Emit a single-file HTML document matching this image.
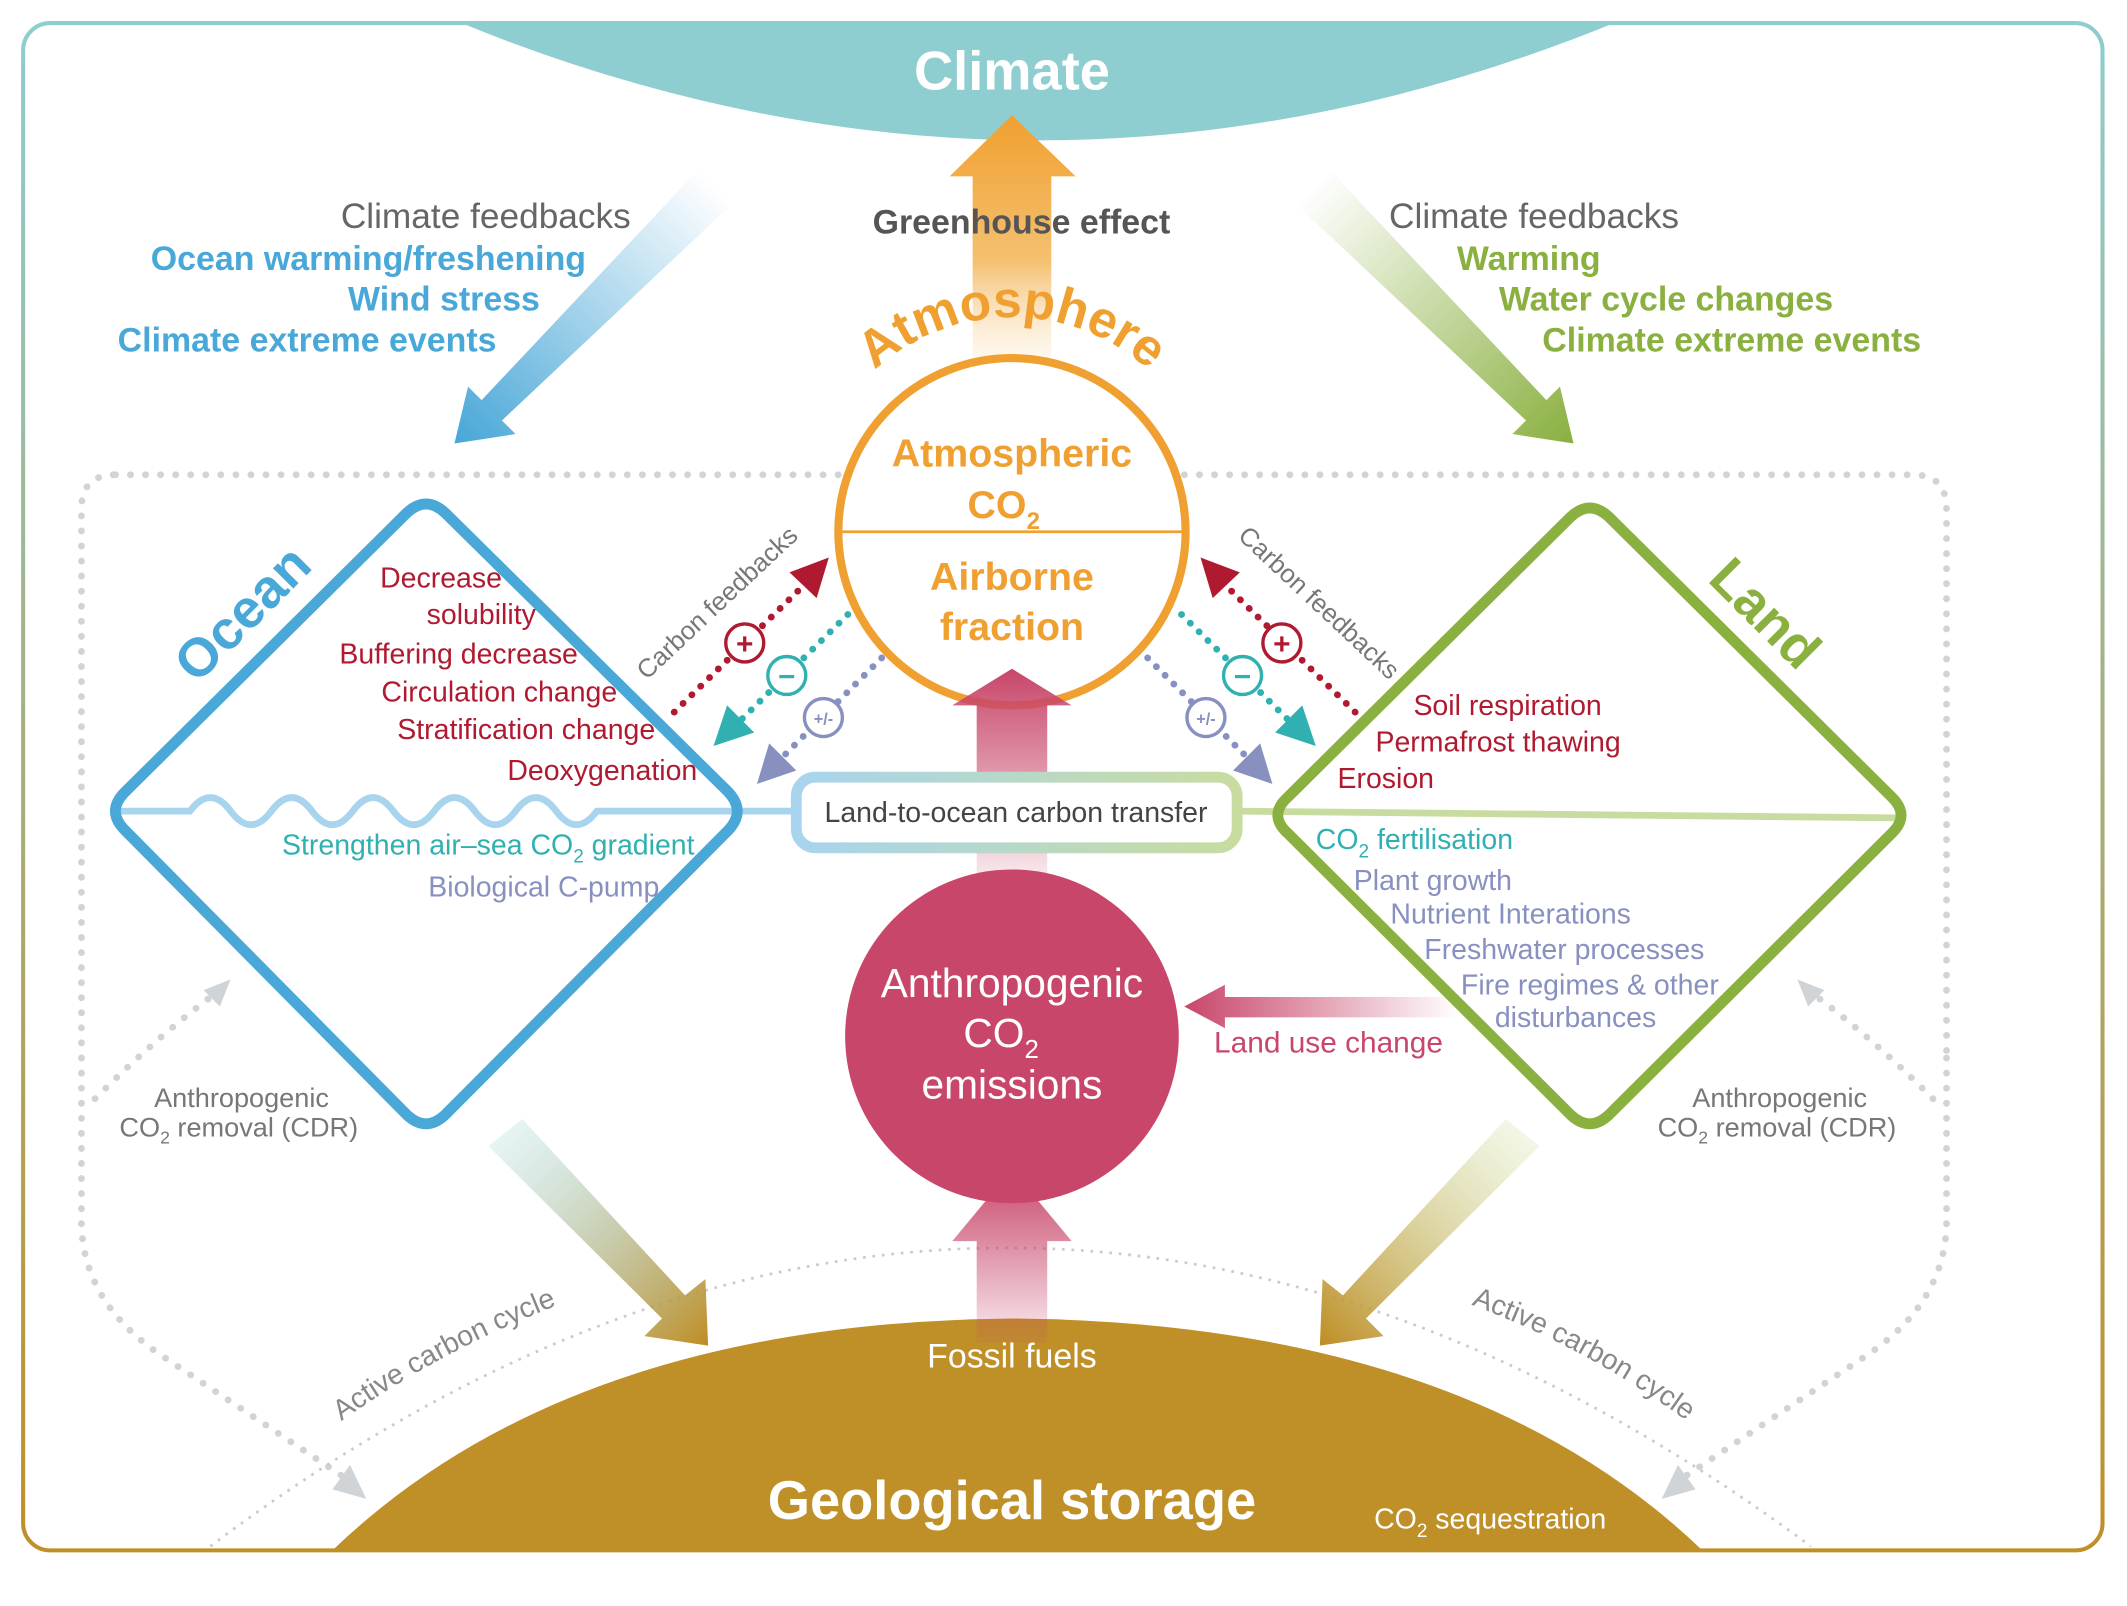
<!DOCTYPE html>
<html><head><meta charset="utf-8"><style>
html,body{margin:0;padding:0;background:#fff}
svg{display:block}
text{font-family:"Liberation Sans Narrow","Liberation Sans",sans-serif}
</style></head><body>
<svg width="2127" height="1606" viewBox="0 0 1568 1184" xmlns="http://www.w3.org/2000/svg">
<defs>
<linearGradient id="bord" x1="0" y1="0" x2="0" y2="1"><stop offset="0" stop-color="#8ecdd0"/><stop offset="1" stop-color="#bf8f28"/></linearGradient>
<linearGradient id="orng" x1="0" y1="0" x2="0" y2="1"><stop offset="0" stop-color="#f0a030"/><stop offset="0.5" stop-color="#f5c070"/><stop offset="1" stop-color="#fff" stop-opacity="0"/></linearGradient>
<linearGradient id="pink" x1="0" y1="0" x2="0" y2="1"><stop offset="0" stop-color="#c8466a"/><stop offset="1" stop-color="#c8466a" stop-opacity="0.1"/></linearGradient>
<linearGradient id="pinkh" x1="0" y1="0" x2="1" y2="0"><stop offset="0" stop-color="#c8466a"/><stop offset="1" stop-color="#c8466a" stop-opacity="0"/></linearGradient>
<linearGradient id="blueA" x1="525" y1="135" x2="340" y2="325" gradientUnits="userSpaceOnUse"><stop offset="0" stop-color="#4aa8d8" stop-opacity="0"/><stop offset="1" stop-color="#4aa8d8"/></linearGradient>
<linearGradient id="greenA" x1="970" y1="135" x2="1160" y2="325" gradientUnits="userSpaceOnUse"><stop offset="0" stop-color="#8ab040" stop-opacity="0"/><stop offset="1" stop-color="#8ab040"/></linearGradient>
<linearGradient id="goldL" x1="365" y1="835" x2="520" y2="990" gradientUnits="userSpaceOnUse"><stop offset="0" stop-color="#8ecdd0" stop-opacity="0.2"/><stop offset="1" stop-color="#bf8f28"/></linearGradient>
<linearGradient id="goldR" x1="1130" y1="835" x2="975" y2="990" gradientUnits="userSpaceOnUse"><stop offset="0" stop-color="#c8d890" stop-opacity="0.2"/><stop offset="1" stop-color="#bf8f28"/></linearGradient>
<linearGradient id="lto" x1="586" y1="0" x2="912" y2="0" gradientUnits="userSpaceOnUse"><stop offset="0" stop-color="#a8d4ee"/><stop offset="1" stop-color="#c8dca0"/></linearGradient>
<path id="atmArc" d="M606,330 A150,150 0 0 1 886,330"/>
<path id="cfL" d="M478,500 L608,378"/>
<path id="cfR" d="M893,378 L1023,500"/>
<path id="accL" d="M235,1060 Q320,995 430,955"/>
<path id="accR" d="M1065,955 Q1170,990 1260,1060"/>
</defs>
<rect x="17" y="17" width="1533" height="1126" rx="20" fill="none" stroke="url(#bord)" stroke-width="3"/>
<path d="M85,350 H1410 Q1435,350 1435,375 V780 M60,780 V375 Q60,350 85,350" fill="none" stroke="#d0d4d6" stroke-width="5" stroke-dasharray="0.1 11" stroke-linecap="round"/>
<path d="M60,780 V900 Q60,960 120,1000 L255,1090" fill="none" stroke="#d0d4d6" stroke-width="5" stroke-dasharray="0.1 11" stroke-linecap="round"/>
<path d="M1435,780 V900 Q1435,960 1375,1000 L1240,1090" fill="none" stroke="#d0d4d6" stroke-width="5" stroke-dasharray="0.1 11" stroke-linecap="round"/>
<path d="M70,810 Q120,760 165,728" fill="none" stroke="#d0d4d6" stroke-width="5" stroke-dasharray="0.1 11" stroke-linecap="round"/>
<path d="M1425,810 Q1375,760 1330,728" fill="none" stroke="#d0d4d6" stroke-width="5" stroke-dasharray="0.1 11" stroke-linecap="round"/>
<polygon points="170,722 150,730 162,742" fill="#d0d4d6"/>
<polygon points="1325,722 1345,730 1333,742" fill="#d0d4d6"/>
<polygon points="270,1105 245,1098 258,1080" fill="#d0d4d6"/>
<polygon points="1225,1105 1250,1098 1237,1080" fill="#d0d4d6"/>
<path d="M155,1140 Q740,700 1335,1140" fill="none" stroke="#c8cacc" stroke-width="2" stroke-dasharray="2 5"/>
<path d="M340,17 Q765,190 1190,17 Z" fill="#8ecdd0"/>
<text x="746" y="66" text-anchor="middle" font-size="40" font-weight="bold" fill="#fff">Climate</text>
<polygon points="746,85 793,130 775,130 775,300 717,300 717,130 700,130" fill="url(#orng)"/>
<text x="753" y="172" text-anchor="middle" font-size="25" font-weight="bold" fill="#555">Greenhouse effect</text>
<polygon points="515,125 540,150 370,310 380,320 335,327 345,285 355,295" fill="url(#blueA)"/>
<polygon points="980,125 955,150 1125,310 1115,320 1160,327 1150,285 1140,295" fill="url(#greenA)"/>
<text font-size="25" text-anchor="end"><tspan x="465" y="168" fill="#666" font-size="26">Climate feedbacks</tspan><tspan x="432" y="199" fill="#4aa8d8" font-weight="bold">Ocean warming/freshening</tspan><tspan x="398" y="229" fill="#4aa8d8" font-weight="bold">Wind stress</tspan><tspan x="366" y="259" fill="#4aa8d8" font-weight="bold">Climate extreme events</tspan></text>
<text font-size="25"><tspan x="1024" y="168" fill="#666" font-size="26">Climate feedbacks</tspan><tspan x="1074" y="199" fill="#8ab040" font-weight="bold">Warming</tspan><tspan x="1105" y="229" fill="#8ab040" font-weight="bold">Water cycle changes</tspan><tspan x="1137" y="259" fill="#8ab040" font-weight="bold">Climate extreme events</tspan></text>
<text font-size="38" font-weight="bold" fill="#f0a030"><textPath href="#atmArc" startOffset="50%" text-anchor="middle">Atmosphere</textPath></text>
<polygon points="360,845 385,825 505,955 520,943 522,992 475,985 488,972" fill="url(#goldL)"/>
<polygon points="1135,845 1110,825 990,955 975,943 973,992 1020,985 1007,972" fill="url(#goldR)"/>
<path d="M245,1143 Q420,975 746,972 Q1080,975 1255,1143 Z" fill="#bf8f28"/>
<text x="746" y="1120" text-anchor="middle" font-size="40" font-weight="bold" fill="#fff">Geological storage</text>
<text x="1013" y="1127" font-size="21" fill="#fff">CO<tspan font-size="14" dy="6">2</tspan><tspan dy="-6"> sequestration</tspan></text>
<text font-size="21" fill="#888"><textPath href="#accL" startOffset="50%" text-anchor="middle">Active carbon cycle</textPath></text>
<text font-size="21" fill="#888"><textPath href="#accR" startOffset="50%" text-anchor="middle">Active carbon cycle</textPath></text>
<polygon points="873,742 903,726 903,735 1075,735 1075,750 903,750 903,758" fill="url(#pinkh)"/>
<text x="895" y="776" font-size="22" fill="#c8466a">Land use change</text>
<circle cx="746" cy="764" r="123" fill="#c8466a"/>
<text text-anchor="middle" font-size="30" fill="#fff"><tspan x="746" y="735">Anthropogenic</tspan><tspan x="738" y="772">CO</tspan><tspan font-size="19" dy="8">2</tspan><tspan x="746" y="810">emissions</tspan></text>
<polygon points="746,862 790,915 772,915 772,990 720,990 720,915 702,915" fill="url(#pink)"/>
<text x="746" y="1008" text-anchor="middle" font-size="25" fill="#fff">Fossil fuels</text>
<path d="M85,598 H140 q15,-20 30,0 t30,0 t30,0 t30,0 t30,0 t30,0 t30,0 t30,0 t30,0 t30,0 H586" fill="none" stroke="#a8d4ee" stroke-width="5"/>
<path d="M912,598 L1400,603" fill="none" stroke="#c8dca0" stroke-width="5"/>
<path d="M300,378 Q314,365 328,378 L537,584 Q550,598 537,612 L328,822 Q314,835 300,822 L92,612 Q78,598 92,584 Z" fill="none" stroke="#4aa8d8" stroke-width="8"/>
<path d="M1158,381 Q1172,368 1186,381 L1395,588 Q1408,601 1395,614 L1186,822 Q1172,835 1158,822 L949,614 Q935,601 949,588 Z" fill="none" stroke="#8ab040" stroke-width="8"/>
<text font-size="40" font-weight="bold" fill="#4aa8d8" transform="translate(145,505) rotate(-45)">Ocean</text>
<text font-size="40" font-weight="bold" fill="#8ab040" transform="translate(1258,428) rotate(45)">Land</text>
<text font-size="21" fill="#b01a30" text-anchor="end"><tspan x="370" y="433">Decrease</tspan><tspan x="395" y="460">solubility</tspan><tspan x="426" y="489">Buffering decrease</tspan><tspan x="455" y="517">Circulation change</tspan><tspan x="483" y="545">Stratification change</tspan><tspan x="514" y="575">Deoxygenation</tspan></text>
<text font-size="21" text-anchor="end"><tspan x="512" y="630" fill="#30b0b0">Strengthen air–sea CO<tspan font-size="14" dy="6">2</tspan><tspan dy="-6"> gradient</tspan></tspan><tspan x="486" y="661" fill="#8890c0">Biological C-pump</tspan></text>
<text font-size="21" fill="#b01a30"><tspan x="1042" y="527">Soil respiration</tspan><tspan x="1014" y="554">Permafrost thawing</tspan><tspan x="986" y="581">Erosion</tspan></text>
<text font-size="21" fill="#8890c0"><tspan x="970" y="626" fill="#30b0b0">CO<tspan font-size="14" dy="6">2</tspan><tspan dy="-6"> fertilisation</tspan></tspan><tspan x="998" y="656">Plant growth</tspan><tspan x="1025" y="681">Nutrient Interations</tspan><tspan x="1050" y="707">Freshwater processes</tspan><tspan x="1077" y="733">Fire regimes &amp; other</tspan><tspan x="1102" y="757">disturbances</tspan></text>
<text font-size="20" fill="#777" text-anchor="middle"><tspan x="178" y="816">Anthropogenic</tspan><tspan x="176" y="838">CO<tspan font-size="13" dy="5">2</tspan><tspan dy="-5"> removal (CDR)</tspan></tspan><tspan x="1312" y="816">Anthropogenic</tspan><tspan x="1310" y="838">CO<tspan font-size="13" dy="5">2</tspan><tspan dy="-5"> removal (CDR)</tspan></tspan></text>
<circle cx="746" cy="392" r="128" fill="#fff" stroke="#f0a030" stroke-width="6"/>
<line x1="620" y1="392" x2="872" y2="392" stroke="#f0a030" stroke-width="2"/>
<text text-anchor="middle" font-size="29" font-weight="bold" fill="#f0a030"><tspan x="746" y="344">Atmospheric</tspan><tspan x="740" y="382">CO</tspan><tspan font-size="18" dy="8">2</tspan><tspan x="746" y="435">Airborne</tspan><tspan x="746" y="472">fraction</tspan></text>
<polygon points="746,493 790,520 772,520 772,650 720,650 720,520 702,520" fill="url(#pink)"/>
<rect x="587" y="573" width="325" height="52" rx="14" fill="#fff" stroke="url(#lto)" stroke-width="8"/>
<text x="749" y="606" text-anchor="middle" font-size="21" fill="#444">Land-to-ocean carbon transfer</text>
<g stroke-width="5" stroke-linecap="round" stroke-dasharray="0.1 9" fill="none">
<path d="M497,525 L592,432" stroke="#b01a30"/>
<path d="M625,453 L545,532" stroke="#30b0b0"/>
<path d="M650,485 L578,557" stroke="#8890c0"/>
<path d="M999,525 L904,432" stroke="#b01a30"/>
<path d="M871,453 L951,532" stroke="#30b0b0"/>
<path d="M846,485 L918,557" stroke="#8890c0"/>
</g>
<polygon points="611,411 602,441 582,422" fill="#b01a30"/>
<polygon points="526,550 536,520 556,540" fill="#30b0b0"/>
<polygon points="558,578 567,548 587,568" fill="#8890c0"/>
<polygon points="885,411 894,441 914,422" fill="#b01a30"/>
<polygon points="970,550 960,520 940,540" fill="#30b0b0"/>
<polygon points="938,578 929,548 909,568" fill="#8890c0"/>
<g fill="#fff" stroke-width="2.5">
<circle cx="549" cy="474" r="14" stroke="#b01a30"/><circle cx="580" cy="498" r="14" stroke="#30b0b0"/><circle cx="607" cy="529" r="14" stroke="#8890c0"/>
<circle cx="945" cy="474" r="14" stroke="#b01a30"/><circle cx="916" cy="498" r="14" stroke="#30b0b0"/><circle cx="889" cy="529" r="14" stroke="#8890c0"/>
</g>
<g text-anchor="middle" font-weight="bold">
<text x="549" y="482" font-size="22" fill="#b01a30">+</text><text x="580" y="506" font-size="22" fill="#30b0b0">−</text><text x="607" y="534" font-size="12" fill="#8890c0">+/-</text>
<text x="945" y="482" font-size="22" fill="#b01a30">+</text><text x="916" y="506" font-size="22" fill="#30b0b0">−</text><text x="889" y="534" font-size="12" fill="#8890c0">+/-</text>
</g>
<text font-size="19" fill="#777" transform="translate(-10,10)"><textPath href="#cfL" startOffset="50%" text-anchor="middle">Carbon feedbacks</textPath></text>
<text font-size="19" fill="#777" transform="translate(10,10)"><textPath href="#cfR" startOffset="50%" text-anchor="middle">Carbon feedbacks</textPath></text>
</svg>
</body></html>
